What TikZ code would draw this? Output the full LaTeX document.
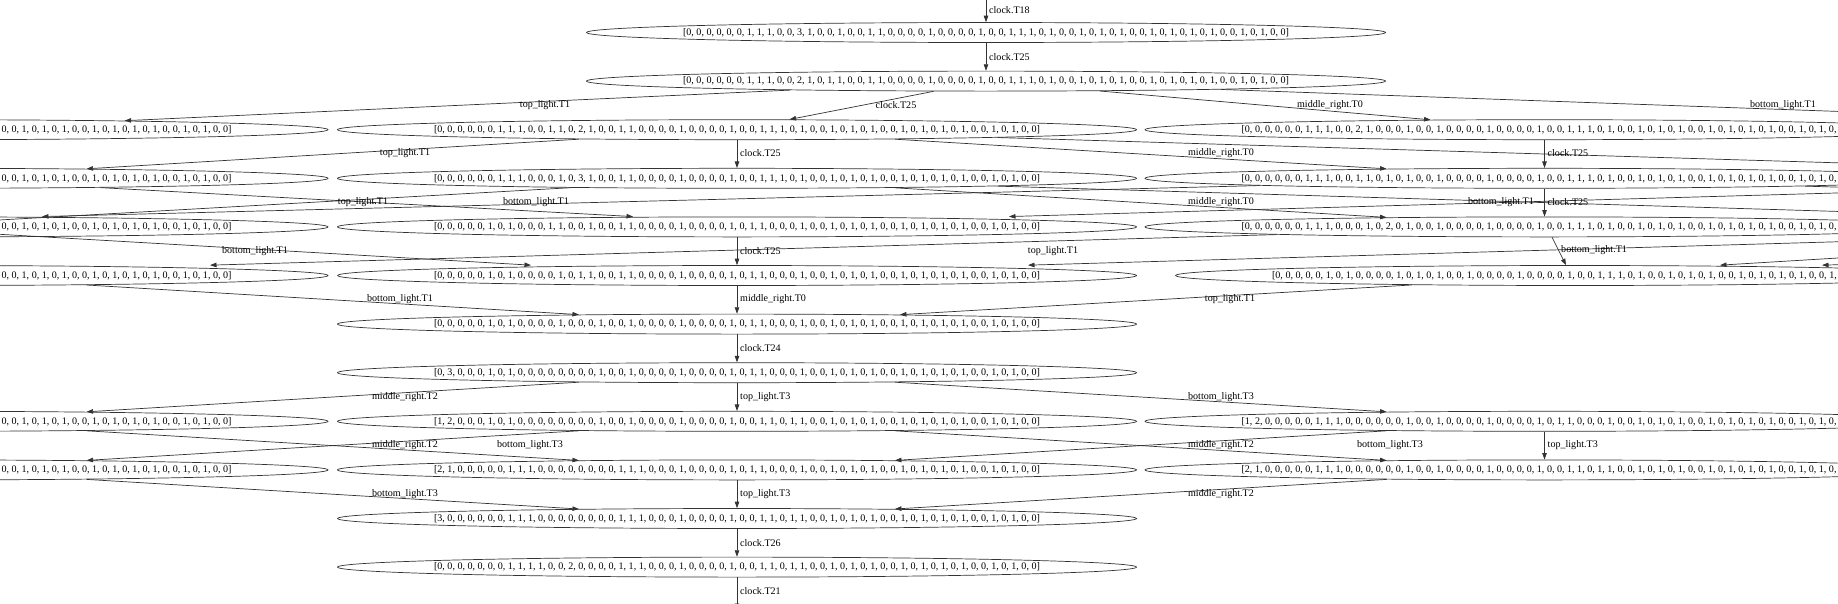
\documentclass[tikz,border=0pt]{standalone}
\usepackage{fontspec}
\setmainfont{Liberation Serif}
\usetikzlibrary{arrows.meta,shapes.geometric}
\newcommand{\ctxt}[1]{\makebox[0pt]{#1}}
\newcommand{\rtxt}[1]{\makebox[0pt]{\makebox[606pt][r]{#1}}}
\newcommand{\tailL}{0, 0, 1, 0, 1, 0, 1, 0, 0, 1, 0, 1, 0, 1, 0, 1, 0, 0, 1, 0, 1, 0, 0]}
\begin{document}
\begin{tikzpicture}[x=1pt,y=-1pt,
  st/.style={draw=black!80, line width=0.7pt, ellipse, minimum width=799pt, minimum height=20pt, inner sep=0pt, font=\fontsize{10.07}{12}\selectfont},
  edge/.style={draw=black!80, line width=0.7pt, -{Triangle[length=6.5pt,width=4.5pt]}},
  lbl/.style={font=\fontsize{10.07}{12}\selectfont, inner sep=0pt},
  lblw/.style={lbl, anchor=west},
]
\useasboundingbox (0,0) rectangle (1838,603);
\fill[white] (0,0) rectangle (1838,603);
\clip (0,0) rectangle (1838,603);

% ---------- nodes ----------
\node[st] (r1) at (986,32.5) {\ctxt{[0, 0, 0, 0, 0, 0, 1, 1, 1, 0, 0, 3, 1, 0, 0, 1, 0, 0, 1, 1, 0, 0, 0, 0, 1, 0, 0, 0, 0, 1, 0, 0, 1, 1, 1, 0, 1, 0, 0, 1, 0, 1, 0, 1, 0, 0, 1, 0, 1, 0, 1, 0, 1, 0, 0, 1, 0, 1, 0, 0]}};
\node[st] (r2) at (986,81.1) {\ctxt{[0, 0, 0, 0, 0, 0, 1, 1, 1, 0, 0, 2, 1, 0, 1, 1, 0, 0, 1, 1, 0, 0, 0, 0, 1, 0, 0, 0, 0, 1, 0, 0, 1, 1, 1, 0, 1, 0, 0, 1, 0, 1, 0, 1, 0, 0, 1, 0, 1, 0, 1, 0, 1, 0, 0, 1, 0, 1, 0, 0]}};

\node[st] (r3l) at (-71.5,129.7) {\rtxt{\tailL}};
\node[st] (r3c) at (737,129.7) {\ctxt{[0, 0, 0, 0, 0, 0, 1, 1, 1, 0, 0, 1, 1, 0, 2, 1, 0, 0, 1, 1, 0, 0, 0, 0, 1, 0, 0, 0, 0, 1, 0, 0, 1, 1, 1, 0, 1, 0, 0, 1, 0, 1, 0, 1, 0, 0, 1, 0, 1, 0, 1, 0, 1, 0, 0, 1, 0, 1, 0, 0]}};
\node[st] (r3r) at (1544.5,129.7) {\ctxt{[0, 0, 0, 0, 0, 0, 1, 1, 1, 0, 0, 2, 1, 0, 0, 0, 1, 0, 0, 1, 0, 0, 0, 0, 1, 0, 0, 0, 0, 1, 0, 0, 1, 1, 1, 0, 1, 0, 0, 1, 0, 1, 0, 1, 0, 0, 1, 0, 1, 0, 1, 0, 1, 0, 0, 1, 0, 1, 0, 0]}};

\node[st] (r4l) at (-71.5,178.3) {\rtxt{\tailL}};
\node[st] (r4c) at (737,178.3) {\ctxt{[0, 0, 0, 0, 0, 0, 1, 1, 1, 0, 0, 0, 1, 0, 3, 1, 0, 0, 1, 1, 0, 0, 0, 0, 1, 0, 0, 0, 0, 1, 0, 0, 1, 1, 1, 0, 1, 0, 0, 1, 0, 1, 0, 1, 0, 0, 1, 0, 1, 0, 1, 0, 1, 0, 0, 1, 0, 1, 0, 0]}};
\node[st] (r4r) at (1544.5,178.3) {\ctxt{[0, 0, 0, 0, 0, 0, 1, 1, 1, 0, 0, 1, 1, 0, 1, 0, 1, 0, 0, 1, 0, 0, 0, 0, 1, 0, 0, 0, 0, 1, 0, 0, 1, 1, 1, 0, 1, 0, 0, 1, 0, 1, 0, 1, 0, 0, 1, 0, 1, 0, 1, 0, 1, 0, 0, 1, 0, 1, 0, 0]}};

\node[st] (r5l) at (-71.5,226.9) {\rtxt{\tailL}};
\node[st] (r5c) at (737,226.9) {\ctxt{[0, 0, 0, 0, 0, 1, 0, 1, 0, 0, 0, 1, 1, 0, 0, 1, 0, 0, 1, 1, 0, 0, 0, 0, 1, 0, 0, 0, 0, 1, 0, 1, 1, 0, 0, 0, 1, 0, 0, 1, 0, 1, 0, 1, 0, 0, 1, 0, 1, 0, 1, 0, 1, 0, 0, 1, 0, 1, 0, 0]}};
\node[st] (r5r) at (1544.5,226.9) {\ctxt{[0, 0, 0, 0, 0, 0, 1, 1, 1, 0, 0, 0, 1, 0, 2, 0, 1, 0, 0, 1, 0, 0, 0, 0, 1, 0, 0, 0, 0, 1, 0, 0, 1, 1, 1, 0, 1, 0, 0, 1, 0, 1, 0, 1, 0, 0, 1, 0, 1, 0, 1, 0, 1, 0, 0, 1, 0, 1, 0, 0]}};

\node[st] (r6l) at (-71.5,275.5) {\rtxt{\tailL}};
\node[st] (r6c) at (737,275.5) {\ctxt{[0, 0, 0, 0, 0, 1, 0, 1, 0, 0, 0, 0, 1, 0, 1, 1, 0, 0, 1, 1, 0, 0, 0, 0, 1, 0, 0, 0, 0, 1, 0, 1, 1, 0, 0, 0, 1, 0, 0, 1, 0, 1, 0, 1, 0, 0, 1, 0, 1, 0, 1, 0, 1, 0, 0, 1, 0, 1, 0, 0]}};
\node[st] (r6r) at (1575,275.5) {\ctxt{[0, 0, 0, 0, 0, 1, 0, 1, 0, 0, 0, 0, 1, 0, 1, 0, 1, 0, 0, 1, 0, 0, 0, 0, 1, 0, 0, 0, 0, 1, 0, 0, 1, 1, 1, 0, 1, 0, 0, 1, 0, 1, 0, 1, 0, 0, 1, 0, 1, 0, 1, 0, 1, 0, 0, 1, 0, 1, 0, 0]}};

\node[st] (r7c) at (737,324.1) {\ctxt{[0, 0, 0, 0, 0, 1, 0, 1, 0, 0, 0, 0, 1, 0, 0, 0, 1, 0, 0, 1, 0, 0, 0, 0, 1, 0, 0, 0, 0, 1, 0, 1, 1, 0, 0, 0, 1, 0, 0, 1, 0, 1, 0, 1, 0, 0, 1, 0, 1, 0, 1, 0, 1, 0, 0, 1, 0, 1, 0, 0]}};
\node[st] (r8c) at (737,372.7) {\ctxt{[0, 3, 0, 0, 0, 1, 0, 1, 0, 0, 0, 0, 0, 0, 0, 0, 1, 0, 0, 1, 0, 0, 0, 0, 1, 0, 0, 0, 0, 1, 0, 1, 1, 0, 0, 0, 1, 0, 0, 1, 0, 1, 0, 1, 0, 0, 1, 0, 1, 0, 1, 0, 1, 0, 0, 1, 0, 1, 0, 0]}};

\node[st] (r9l) at (-71.5,421.3) {\rtxt{\tailL}};
\node[st] (r9c) at (737,421.3) {\ctxt{[1, 2, 0, 0, 0, 1, 0, 1, 0, 0, 0, 0, 0, 0, 0, 0, 1, 0, 0, 1, 0, 0, 0, 0, 1, 0, 0, 0, 0, 1, 0, 0, 1, 1, 0, 1, 1, 0, 0, 1, 0, 1, 0, 1, 0, 0, 1, 0, 1, 0, 1, 0, 1, 0, 0, 1, 0, 1, 0, 0]}};
\node[st] (r9r) at (1544.5,421.3) {\ctxt{[1, 2, 0, 0, 0, 0, 0, 1, 1, 1, 0, 0, 0, 0, 0, 0, 1, 0, 0, 1, 0, 0, 0, 0, 1, 0, 0, 0, 0, 1, 0, 1, 1, 0, 0, 0, 1, 0, 0, 1, 0, 1, 0, 1, 0, 0, 1, 0, 1, 0, 1, 0, 1, 0, 0, 1, 0, 1, 0, 0]}};

\node[st] (r10l) at (-71.5,469.9) {\rtxt{\tailL}};
\node[st] (r10c) at (737,469.9) {\ctxt{[2, 1, 0, 0, 0, 0, 0, 1, 1, 1, 0, 0, 0, 0, 0, 0, 0, 0, 1, 1, 1, 0, 0, 0, 1, 0, 0, 0, 0, 1, 0, 1, 1, 0, 0, 0, 1, 0, 0, 1, 0, 1, 0, 1, 0, 0, 1, 0, 1, 0, 1, 0, 1, 0, 0, 1, 0, 1, 0, 0]}};
\node[st] (r10r) at (1544.5,469.9) {\ctxt{[2, 1, 0, 0, 0, 0, 0, 1, 1, 1, 0, 0, 0, 0, 0, 0, 1, 0, 0, 1, 0, 0, 0, 0, 1, 0, 0, 0, 0, 1, 0, 0, 1, 1, 0, 1, 1, 0, 0, 1, 0, 1, 0, 1, 0, 0, 1, 0, 1, 0, 1, 0, 1, 0, 0, 1, 0, 1, 0, 0]}};

\node[st] (r11c) at (737,518.5) {\ctxt{[3, 0, 0, 0, 0, 0, 0, 1, 1, 1, 0, 0, 0, 0, 0, 0, 0, 0, 1, 1, 1, 0, 0, 0, 1, 0, 0, 0, 0, 1, 0, 0, 1, 1, 0, 1, 1, 0, 0, 1, 0, 1, 0, 1, 0, 0, 1, 0, 1, 0, 1, 0, 1, 0, 0, 1, 0, 1, 0, 0]}};
\node[st] (r12c) at (737,567.1) {\ctxt{[0, 0, 0, 0, 0, 0, 0, 1, 1, 1, 1, 0, 0, 2, 0, 0, 0, 0, 1, 1, 1, 0, 0, 0, 1, 0, 0, 0, 0, 1, 0, 0, 1, 1, 0, 1, 1, 0, 0, 1, 0, 1, 0, 1, 0, 0, 1, 0, 1, 0, 1, 0, 1, 0, 0, 1, 0, 1, 0, 0]}};

% ends of connectors that lie outside the picture
\coordinate (top) at (986,-5);
\coordinate (bot) at (737,610);
\coordinate (rr3) at (2352,129.7);
\coordinate (rr4) at (2352,178.3);
\coordinate (ll5) at (-879,226.9);
\coordinate (zz5) at (2352,226.9);
\coordinate (yy5) at (3160,226.9);

% ---------- edges ----------
\draw[edge] (top) -- (r1);
\draw[edge] (r1) -- (r2);
\draw[edge] (r2) -- (r3l);
\draw[edge] (r2) -- (r3c);
\draw[edge] (r2) -- (r3r);
\draw[edge] (r2) -- (rr3);

\draw[edge] (r3l) -- (r4l);
\draw[edge] (r3c) -- (r4l);
\draw[edge] (r3c) -- (r4c);
\draw[edge] (r3c) -- (r4r);
\draw[edge] (r3c) -- (rr4);
\draw[edge] (r3r) -- (r4r);

\draw[edge] (r4l) -- ([xshift=-104pt]r5c.north);
\draw[edge] (r4l) -- (r5l);
\draw[edge] (r4l) -- (ll5);
\draw[edge] (r4c) -- ([shift={(579pt,-10pt)}]ll5);
\draw[edge] (r4c) -- (r5r);
\draw[edge] (r4c) -- (zz5);
\draw[edge] (r4r) -- ([xshift=113.5pt]r5l.north);
\draw[edge] (r4r) -- (yy5);
\draw[edge] (r4r) -- (r5r);
\draw[edge] (rr4) -- ([xshift=272pt]r5c.north);

\draw[edge] ([shift={(579pt,10pt)}]ll5) -- ([xshift=-206pt]r6c.north);
\draw[edge] (ll5) -- (r6l);
\draw[edge] (r5l) -- (r6l);
\draw[edge] (r5c) -- (r6c);
\draw[edge] (r5r) -- ([xshift=281.5pt]r6l.north);
\draw[edge] ([xshift=7.5pt]r5r.south) -- ([xshift=-9pt]r6r.north);
\draw[edge] (yy5) -- ([xshift=247pt]r6r.north);
\draw[edge] (zz5) -- ([xshift=291pt]r6c.north);
\draw[edge] (zz5) -- ([xshift=145pt]r6r.north);

\draw[edge] (r6l) -- (r7c);
\draw[edge] (r6c) -- (r7c);
\draw[edge] (r6r) -- (r7c);
\draw[edge] (r7c) -- (r8c);

\draw[edge] (r8c) -- (r9l);
\draw[edge] (r8c) -- (r9c);
\draw[edge] (r8c) -- (r9r);
\draw[edge] (r9l) -- (r10l);
\draw[edge] (r9l) -- (r10c);
\draw[edge] (r9c) -- (r10l);
\draw[edge] (r9c) -- (r10r);
\draw[edge] (r9r) -- (r10c);
\draw[edge] (r9r) -- (r10r);
\draw[edge] (r10l) -- (r11c);
\draw[edge] (r10c) -- (r11c);
\draw[edge] (r10r) -- (r11c);
\draw[edge] (r11c) -- (r12c);
\draw[edge] (r12c) -- (bot);

% ---------- labels ----------
\node[lblw] (la1) at (989,10) {clock.T18};
\node[lblw] (la2) at (989,57) {clock.T25};
\node[lbl] (lb1) at (545,105) {top\_light.T1};
\node[lbl] (lb2) at (896,105) {clock.T25};
\node[lbl] (lb3) at (1330,105) {middle\_right.T0};
\node[lbl] (lb4) at (1783,105) {bottom\_light.T1};
\node[lbl] (lc1) at (405,153.5) {top\_light.T1};
\node[lblw] (lc2) at (740,153.5) {clock.T25};
\node[lbl] (lc3) at (1221,153.5) {middle\_right.T0};
\node[lblw] (lc4) at (1547.5,153.5) {clock.T25};
\node[lbl] (ld1) at (363,202) {top\_light.T1};
\node[lbl] (ld2) at (536,202) {bottom\_light.T1};
\node[lbl] (ld3) at (1221,202) {middle\_right.T0};
\node[lbl] (ld4) at (1501,202) {bottom\_light.T1};
\node[lblw] (ld5) at (1547.5,202) {clock.T25};
\node[lbl] (le1) at (255,251) {bottom\_light.T1};
\node[lblw] (le2) at (740,251) {clock.T25};
\node[lbl] (le3) at (1053,251) {top\_light.T1};
\node[lblw] (le4) at (1561,250) {bottom\_light.T1};
\node[lbl] (lf1) at (400,299.5) {bottom\_light.T1};
\node[lblw] (lf2) at (740,299.5) {middle\_right.T0};
\node[lbl] (lf3) at (1230,299.5) {top\_light.T1};
\node[lblw] (lg1) at (740,348) {clock.T24};
\node[lbl] (lh1) at (405,397) {middle\_right.T2};
\node[lblw] (lh2) at (740,397) {top\_light.T3};
\node[lbl] (lh3) at (1221,397) {bottom\_light.T3};
\node[lbl] (li1) at (405,445.5) {middle\_right.T2};
\node[lbl] (li2) at (530,445.5) {bottom\_light.T3};
\node[lbl] (li3) at (1221,445.5) {middle\_right.T2};
\node[lbl] (li4) at (1390,445.5) {bottom\_light.T3};
\node[lblw] (li5) at (1547.5,445.5) {top\_light.T3};
\node[lbl] (lj1) at (405,494) {bottom\_light.T3};
\node[lblw] (lj2) at (740,494) {top\_light.T3};
\node[lbl] (lj3) at (1221,494) {middle\_right.T2};
\node[lblw] (lk1) at (740,543) {clock.T26};
\node[lblw] (ll1) at (740,591) {clock.T21};
\end{tikzpicture}
\end{document}
